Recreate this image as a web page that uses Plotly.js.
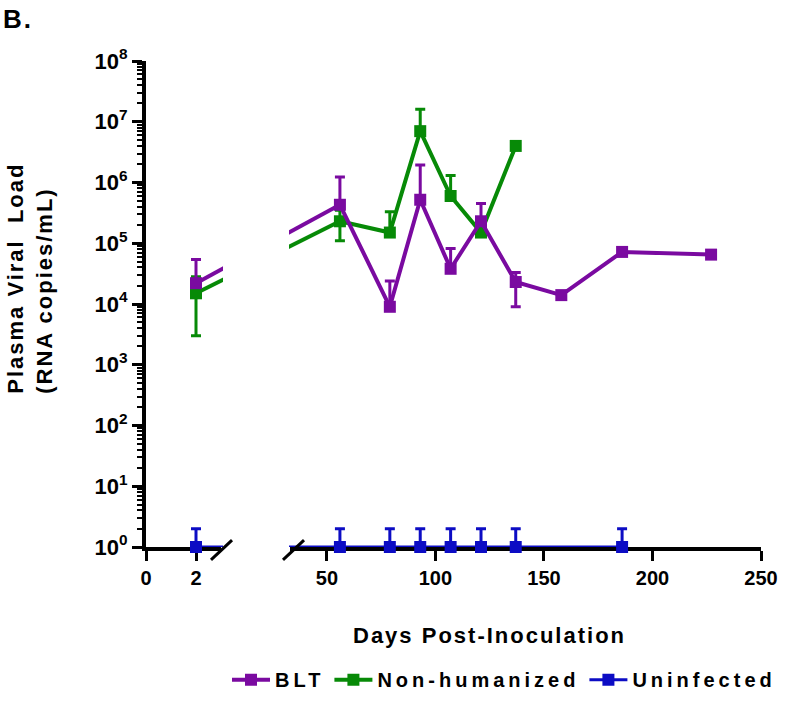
<!DOCTYPE html>
<html>
<head>
<meta charset="utf-8">
<script src="https://cdn.plot.ly/plotly-3.0.1.min.js"></script>
<style>
html,body{margin:0;padding:0;background:#fff}
#chart{width:800px;height:711px}
.legendtext{letter-spacing:4px}
.annotation-text{letter-spacing:2px}
</style>
</head>
<body>
<div id="chart"></div>
<script>
// ---------------- data ----------------
const seriesNames = ['BLT', 'Non-humanized', 'Uninfected'];

const bltDays    = [2, 56, 79, 93, 107, 121, 137, 158, 186, 227];
const bltLoad    = [2.2e4, 4.3e5, 9.0e3, 5.2e5, 3.8e4, 2.3e5, 2.3e4, 1.4e4, 7.2e4, 6.5e4];
const bltErrUp   = [3.2e4, 8.0e5, 1.5e4, 1.42e6, 4.4e4, 2.2e5, 1.0e4, 0, 0, 0];
const bltErrDown = [0, 0, 0, 0, 0, 0, 1.4e4, 0, 0, 0];

const nhDays     = [2, 56, 79, 93, 107, 121, 137];
const nhLoad     = [1.5e4, 2.3e5, 1.5e5, 7.0e6, 6.0e5, 1.5e5, 4.0e6];
const nhErrUp    = [1.3e4, 1.2e5, 1.8e5, 9.0e6, 7.0e5, 0, 0];
const nhErrDown  = [1.2e4, 1.2e5, 0, 0, 0, 0, 0];

const uiDays     = [2, 56, 79, 93, 107, 121, 137, 186];
const uiLoad     = [1, 1, 1, 1, 1, 1, 1, 1];
const uiErrUp    = [1, 1, 1, 1, 1, 1, 1, 1];
const uiErrDown  = [0, 0, 0, 0, 0, 0, 0, 0];

const xTicksEarly = [0, 2];
const xTicksLate  = [50, 100, 150, 200, 250];
const yExponents  = [0, 1, 2, 3, 4, 5, 6, 7, 8];

// ---------------- styling / geometry ----------------
const colors = {BLT: '#7a0aa0', 'Non-humanized': '#078a07', Uninfected: '#0c0cc4'};
const FONT = 'Liberation Sans, Arial, sans-serif';
const L = 146, R = 761, T = 61, B = 552, W = 800, H = 711;
const PW = R - L, PH = B - T;
const px2x = p => (p - L) / PW;
const py2y = p => (B - p) / PH;

const earlyRange = [0, 3];
const lateRange  = [33, 250];
const earlyDom   = [0, px2x(221)];
const lateDom    = [px2x(290), 1];

// invisible full-width axis that joins the first two points across the break
const d0 = bltDays[0], d1 = bltDays[1];
const fl = earlyDom[0] + (d0 - earlyRange[0]) / (earlyRange[1] - earlyRange[0]) * (earlyDom[1] - earlyDom[0]);
const fr = lateDom[0] + (d1 - lateRange[0]) / (lateRange[1] - lateRange[0]) * (lateDom[1] - lateDom[0]);
const span = (d1 - d0) / (fr - fl);
const bridgeRange = [d0 - fl * span, d0 - fl * span + span];

const series = [
  {name: 'Uninfected',    days: uiDays,  load: uiLoad,  up: uiErrUp,  down: uiErrDown, lw: 3},
  {name: 'Non-humanized', days: nhDays,  load: nhLoad,  up: nhErrUp,  down: nhErrDown, lw: 4},
  {name: 'BLT',           days: bltDays, load: bltLoad, up: bltErrUp, down: bltErrDown, lw: 4}
];

const traces = [];
series.forEach(s => {
  traces.push({
    x: s.days.slice(0, 2), y: s.load.slice(0, 2), xaxis: 'x', yaxis: 'y',
    type: 'scatter', mode: 'lines', line: {color: colors[s.name], width: s.lw},
    showlegend: false, hoverinfo: 'skip'
  });
});
series.forEach(s => {
  traces.push({
    x: s.days.slice(0, 1), y: s.load.slice(0, 1), xaxis: 'x2', yaxis: 'y',
    type: 'scatter', mode: 'markers', cliponaxis: false,
    marker: {symbol: 'square', size: 12, color: colors[s.name]},
    error_y: {type: 'data', symmetric: false, array: s.up.slice(0, 1), arrayminus: s.down.slice(0, 1),
              color: colors[s.name], thickness: 3, width: 5},
    showlegend: false, hoverinfo: 'skip'
  });
});
series.forEach(s => {
  traces.push({
    x: s.days.slice(1), y: s.load.slice(1), xaxis: 'x3', yaxis: 'y',
    type: 'scatter', mode: 'lines+markers', cliponaxis: false, name: s.name,
    line: {color: colors[s.name], width: s.lw},
    marker: {symbol: 'square', size: 12, color: colors[s.name]},
    error_y: {type: 'data', symmetric: false, array: s.up.slice(1), arrayminus: s.down.slice(1),
              color: colors[s.name], thickness: 3, width: 5}
  });
});

const yTickVals = yExponents.map(e => Math.pow(10, e));
const yTickText = yExponents.map(e => '10<sup>' + e + '</sup>');
const yMinor = [];
yExponents.slice(0, -1).forEach(e => { for (let m = 2; m <= 9; m++) yMinor.push(m * Math.pow(10, e)); });

const xCommon = {
  anchor: 'y', showline: true, linewidth: 4, linecolor: '#000', ticks: 'outside', ticklen: 10,
  tickwidth: 3, tickcolor: '#000', showgrid: false, zeroline: false, layer: 'below traces',
  tickfont: {family: FONT, size: 20, color: '#000', weight: 'bold'}, fixedrange: true
};

const layout = {
  width: W, height: H,
  margin: {l: L, r: W - R, t: T, b: H - B, pad: 0},
  paper_bgcolor: '#fff', plot_bgcolor: 'rgba(0,0,0,0)',
  showlegend: true,
  legend: {orientation: 'h', x: px2x(504), xanchor: 'center', y: py2y(686), yanchor: 'middle',
           traceorder: 'reversed', itemwidth: 38,
           font: {family: FONT, size: 20, color: '#000', weight: 'bold'},
           bgcolor: 'rgba(0,0,0,0)'},
  xaxis: {domain: [0, 1], range: bridgeRange, visible: false, anchor: 'y', fixedrange: true},
  xaxis2: Object.assign({}, xCommon, {domain: earlyDom, range: earlyRange, tickvals: xTicksEarly}),
  xaxis3: Object.assign({}, xCommon, {domain: lateDom, range: lateRange, tickvals: xTicksLate}),
  yaxis: {
    type: 'log', range: [0, 8], anchor: 'x2', showline: true, linewidth: 4, linecolor: '#000',
    ticks: 'outside', ticklen: 10, tickwidth: 3, tickcolor: '#000', tickvals: yTickVals, ticktext: yTickText,
    showgrid: false, zeroline: false, fixedrange: true,
    tickfont: {family: FONT, size: 22, color: '#000', weight: 'bold'},
    minor: {tickvals: yMinor, ticks: 'outside', ticklen: 5, tickwidth: 2, tickcolor: '#000', showgrid: false}
  },
  shapes: [
    {type: 'rect', xref: 'paper', yref: 'paper', x0: px2x(223), x1: px2x(289), y0: py2y(561), y1: py2y(40),
     fillcolor: '#fff', line: {width: 0}, layer: 'above'},
    {type: 'line', xref: 'paper', yref: 'paper', x0: px2x(211), y0: py2y(565), x1: px2x(232), y1: py2y(545),
     line: {color: '#000', width: 3}, layer: 'above'},
    {type: 'line', xref: 'paper', yref: 'paper', x0: px2x(283), y0: py2y(565), x1: px2x(304), y1: py2y(545),
     line: {color: '#000', width: 3}, layer: 'above'}
  ],
  annotations: [
    {text: 'B.', xref: 'paper', yref: 'paper', x: px2x(1), y: py2y(1), xanchor: 'left', yanchor: 'top',
     showarrow: false, font: {family: FONT, size: 26, color: '#000', weight: 'bold'}},
    {text: 'Plasma Viral\u00a0 Load<br>(RNA copies/mL)', xref: 'paper', yref: 'paper',
     x: px2x(30), y: py2y(281), xanchor: 'center', yanchor: 'middle', textangle: -90, align: 'left',
     showarrow: false, font: {family: FONT, size: 22, color: '#000', weight: 'bold'}},
    {text: 'Days Post-Inoculation', xref: 'paper', yref: 'paper', x: px2x(489), y: py2y(641),
     xanchor: 'center', yanchor: 'middle', showarrow: false,
     font: {family: FONT, size: 22, color: '#000', weight: 'bold'}}
  ]
};

Plotly.newPlot('chart', traces, layout, {displayModeBar: false, staticPlot: true});
</script>
</body>
</html>
